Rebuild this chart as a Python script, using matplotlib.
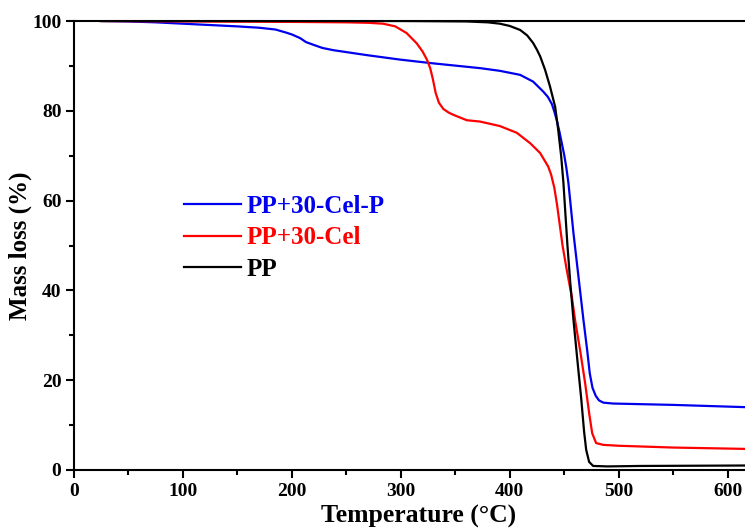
import numpy as np
import matplotlib.pyplot as plt
from matplotlib.ticker import MultipleLocator

plt.rcParams['font.family'] = ['Liberation Serif', 'DejaVu Serif']
plt.rcParams['font.weight'] = 'bold'

# PP+30-Cel-P
temp_celp = [25, 50, 75, 100, 125, 150, 170, 185, 195, 200, 207.5, 213, 219.8, 228, 238.1, 268.8, 299.4, 328.4,
             372.8, 391, 409.6, 421.5, 430.7, 435, 438.7, 441, 443.2, 445.5, 447.8, 450, 452, 453.9, 458.5, 463.1,
             467.7, 471.1, 473.5, 476, 479, 482, 486, 495, 550, 616]
mass_celp = [100, 99.9, 99.7, 99.4, 99.1, 98.8, 98.5, 98.1, 97.4, 97.0, 96.2, 95.3, 94.7, 94.0, 93.5, 92.4, 91.4, 90.6,
             89.5, 88.9, 88.0, 86.5, 84.3, 83.1, 81.5, 79.8, 77.9, 75.5, 72.8, 70.2, 67.3, 63.9, 52.8, 43.1,
             33.4, 26.7, 21.5, 18.3, 16.5, 15.5, 15.0, 14.8, 14.5, 14.0]

# PP+30-Cel
temp_cel = [24, 100, 200, 250, 270, 283.7, 295, 305.4, 314.7, 320, 324, 327, 329.5, 332, 335, 339.1, 344, 348.3,
            360.6, 372.8, 391, 406.5, 418.7, 427.9, 435.3, 438, 441, 443.5, 446, 448.5, 452.4, 457, 460, 464.6,
            469.2, 472.9, 475.7, 479.3, 485.8, 500, 550, 616]
mass_cel = [100, 99.9, 99.8, 99.7, 99.6, 99.4, 98.8, 97.3, 95.0, 93.2, 91.4, 89.5, 87, 84, 81.8, 80.4, 79.6, 79.1,
            77.9, 77.6, 76.6, 75.1, 72.8, 70.6, 67.6, 65.8, 62.8, 59, 54.5, 50, 44.5, 38.6, 33.4, 26.7,
            19.4, 12.7, 8.2, 6.0, 5.6, 5.4, 5.0, 4.7]

# PP
temp_pp = [25, 300, 360, 380, 391, 400, 409.6, 416, 421.5, 425, 428, 432.5, 437, 441.7, 444.4, 447.2, 449.3,
           451, 453, 455.5, 458.5, 461.9, 465.6, 468.3, 470.2, 472.9, 476.6, 490, 520, 616]
mass_pp = [100, 100, 99.9, 99.7, 99.4, 98.9, 98.0, 96.8, 95.1, 93.6, 92.1, 89.1, 85.4, 80.9, 76, 70, 64,
           57.5, 50, 42, 33.5, 25, 16, 8.5, 4.5, 1.8, 0.9, 0.8, 0.9, 1.0]

fig = plt.figure(figsize=[7.45, 5.29], dpi=100)
ax = fig.add_axes([74/745, 1-470/529, 1-74/745, 449/529])

ax.plot(temp_celp, mass_celp, color='#0000ee', linewidth=1.6, label='PP+30-Cel-P')
ax.plot(temp_cel, mass_cel, color='#ff0000', linewidth=1.6, label='PP+30-Cel')
ax.plot(temp_pp, mass_pp, color='black', linewidth=1.6, label='PP')

ax.set_xlim(0, 616)
ax.set_ylim(0, 100)
ax.xaxis.set_major_locator(MultipleLocator(100))
ax.xaxis.set_minor_locator(MultipleLocator(50))
ax.yaxis.set_major_locator(MultipleLocator(20))
ax.yaxis.set_minor_locator(MultipleLocator(10))
ax.tick_params(which='major', direction='out', length=6, width=1.5, labelsize=14, pad=3)
ax.tick_params(which='minor', direction='out', length=3.5, width=1.5)
for s in ['left', 'bottom', 'top']:
    ax.spines[s].set_linewidth(1.5)
ax.spines['right'].set_visible(False)

ax.set_xlabel('Temperature (°C)', fontsize=18.5, fontweight='bold', labelpad=4, x=0.513)
ax.set_ylabel('Mass loss (%)', fontsize=18, fontweight='bold', labelpad=0)

leg = ax.legend(loc='upper left', bbox_to_anchor=(0.145, 0.64), frameon=False,
                handlelength=2.3, handletextpad=0.2, labelspacing=0.33, borderpad=0,
                labelcolor='linecolor', prop={'weight': 'bold', 'size': 18})

plt.savefig('out.png', dpi=100)
